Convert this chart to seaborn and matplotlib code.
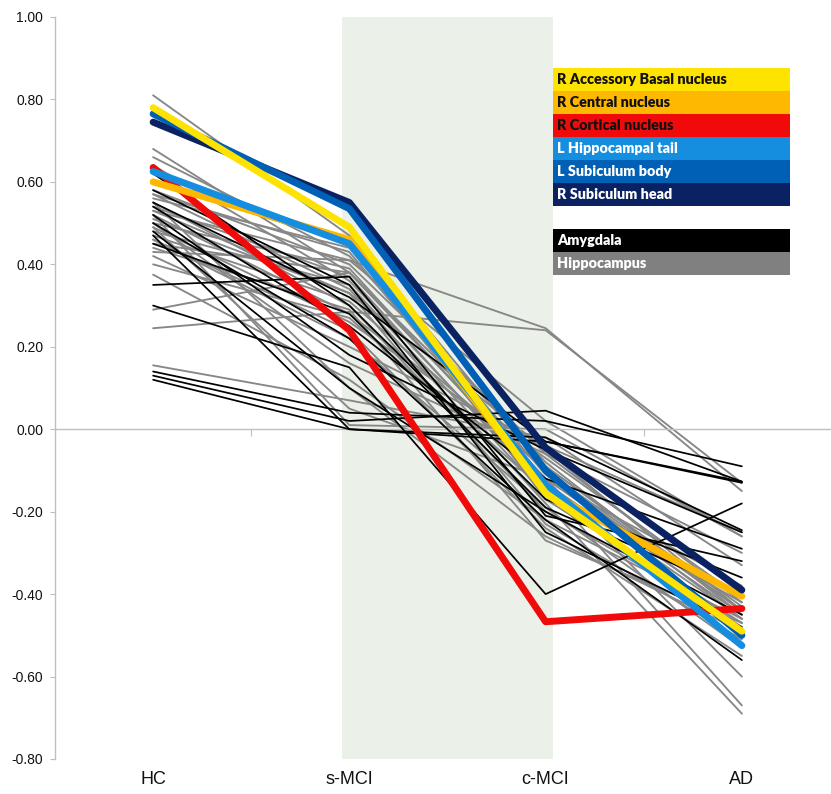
import numpy as np
import pandas as pd
import matplotlib
matplotlib.use("Agg")
import matplotlib.pyplot as plt
from matplotlib.patches import Rectangle
import seaborn as sns

# ---------------- data ----------------
stages = ["HC", "s-MCI", "c-MCI", "AD"]
y_ticks = [-0.8, -0.6, -0.4, -0.2, 0.0, 0.2, 0.4, 0.6, 0.8, 1.0]

# highlighted regions  [HC, s-MCI, c-MCI, AD]
hl_names = ["R Accessory Basal nucleus", "R Central nucleus", "R Cortical nucleus",
            "L Hippocampal tail", "L Subiculum body", "R Subiculum head"]
hl_acc_basal = [0.780, 0.490, -0.155, -0.490]
hl_central = [0.600, 0.460, -0.150, -0.405]
hl_cortical = [0.635, 0.240, -0.467, -0.435]
hl_hipp_tail = [0.625, 0.450, -0.135, -0.525]
hl_sub_body = [0.765, 0.535, -0.100, -0.500]
hl_sub_head = [0.745, 0.550, -0.045, -0.390]

group_names = ["Amygdala", "Hippocampus"]

# amygdala nuclei (black)
amygdala_values = [
    [0.140, 0.040, 0.020, -0.090],
    [0.130, 0.020, 0.045, -0.127],
    [0.120, 0.000, -0.030, -0.130],
    [0.300, 0.150, -0.400, -0.180],
    [0.350, 0.370, -0.210, -0.320],
    [0.620, 0.300, -0.170, -0.360],
    [0.470, 0.000, -0.020, -0.245],
    [0.500, 0.220, -0.220, -0.560],
    [0.550, 0.320, -0.030, -0.127],
    [0.520, 0.180, -0.050, -0.250],
    [0.450, 0.280, -0.190, -0.400],
    [0.580, 0.350, -0.250, -0.480],
    [0.480, 0.100, -0.200, -0.450],
    [0.540, 0.250, -0.120, -0.290],
]

# hippocampal subfields (grey)
hippocampus_values = [
    [0.810, 0.470, -0.100, -0.460],
    [0.680, 0.380, -0.120, -0.600],
    [0.660, 0.420, -0.080, -0.450],
    [0.640, 0.360, -0.140, -0.670],
    [0.580, 0.400, -0.060, -0.420],
    [0.570, 0.340, -0.180, -0.690],
    [0.560, 0.440, -0.110, -0.440],
    [0.550, 0.300, -0.200, -0.470],
    [0.540, 0.370, -0.150, -0.500],
    [0.530, 0.410, 0.020, -0.260],
    [0.520, 0.280, -0.090, -0.430],
    [0.510, 0.330, -0.230, -0.510],
    [0.500, 0.390, -0.130, -0.460],
    [0.490, 0.260, -0.070, -0.410],
    [0.480, 0.350, -0.160, -0.480],
    [0.470, 0.310, -0.100, -0.440],
    [0.460, 0.220, -0.190, -0.530],
    [0.450, 0.380, -0.120, -0.450],
    [0.440, 0.290, -0.270, -0.470],
    [0.430, 0.410, 0.245, -0.150],
    [0.245, 0.285, 0.240, -0.130],
    [0.420, 0.200, -0.040, -0.250],
    [0.400, 0.270, -0.150, -0.420],
    [0.375, 0.120, -0.220, -0.460],
    [0.290, 0.380, -0.090, -0.440],
    [0.520, 0.010, 0.000, -0.260],
    [0.550, 0.100, -0.260, -0.490],
    [0.600, 0.450, -0.170, -0.470],
    [0.500, 0.160, -0.060, -0.300],
    [0.460, 0.240, -0.240, -0.550],
    [0.530, 0.330, -0.050, -0.440],
    [0.570, 0.430, -0.140, -0.500],
    [0.490, 0.050, -0.120, -0.380],
    [0.155, 0.070, -0.020, -0.330],
]

# ---------------- tidy frames ----------------
def to_long(rows, prefix):
    recs = []
    for i, row in enumerate(rows):
        for j, v in enumerate(row):
            recs.append({"region": f"{prefix}{i}", "pos": j, "value": v})
    return pd.DataFrame(recs)

df_amy = to_long(amygdala_values, "amy")
df_hip = to_long(hippocampus_values, "hip")
hl_rows = [hl_acc_basal, hl_central, hl_cortical, hl_hipp_tail, hl_sub_body, hl_sub_head]
df_hl = pd.DataFrame([{"region": n, "pos": j, "value": v}
                      for n, row in zip(hl_names, hl_rows) for j, v in enumerate(row)])

# ---------------- style ----------------
hl_colors = {
    "R Accessory Basal nucleus": "#FFE300",
    "R Central nucleus": "#FFB800",
    "R Cortical nucleus": "#F00A0A",
    "L Hippocampal tail": "#168EE0",
    "L Subiculum body": "#0060B6",
    "R Subiculum head": "#0A2262",
}
hl_text = {
    "R Accessory Basal nucleus": "#111111",
    "R Central nucleus": "#111111",
    "R Cortical nucleus": "#111111",
    "L Hippocampal tail": "white",
    "L Subiculum body": "white",
    "R Subiculum head": "white",
}
group_colors = {"Amygdala": "#000000", "Hippocampus": "#808080"}
draw_order = ["R Cortical nucleus", "R Central nucleus", "L Hippocampal tail",
              "R Subiculum head", "L Subiculum body", "R Accessory Basal nucleus"]

sns.set_style("white")
plt.rcParams["font.family"] = ["Liberation Sans", "DejaVu Sans"]

W, H = 831, 794
fig = plt.figure(figsize=(W / 100, H / 100), dpi=100)
ax_left, ax_right = 55 / W, 840 / W
ax_top, ax_bot = 1 - 17 / H, 1 - 759 / H
ax = fig.add_axes([ax_left, ax_bot, ax_right - ax_left, ax_top - ax_bot])

ax.axvspan(0.96, 2.04, color="#EBF1E9", zorder=0, lw=0)

sns.lineplot(data=df_hip, x="pos", y="value", units="region", estimator=None,
             color="#878787", lw=1.35, ax=ax, legend=False, zorder=2)
sns.lineplot(data=df_amy, x="pos", y="value", units="region", estimator=None,
             color="#000000", lw=1.25, ax=ax, legend=False, zorder=3)
sns.lineplot(data=df_hl, x="pos", y="value", hue="region", hue_order=draw_order,
             palette=hl_colors, estimator=None, lw=5.0, ax=ax, legend=False, zorder=4)

ax.set_xlim(-0.5, 3.5)
ax.set_ylim(-0.8, 1.0)
ax.set_xlabel("")
ax.set_ylabel("")

for s in ["top", "right"]:
    ax.spines[s].set_visible(False)
ax.spines["left"].set_color("#BFBFBF")
ax.spines["left"].set_linewidth(1.0)
ax.spines["bottom"].set_position(("data", 0))
ax.spines["bottom"].set_color("#BFBFBF")
ax.spines["bottom"].set_linewidth(1.0)

ax.set_yticks(y_ticks)
ax.set_yticklabels([f"{v:.2f}" for v in y_ticks])
ax.tick_params(axis="y", length=3.5, width=0.8, color="#BFBFBF", pad=5,
               labelsize=10, labelcolor="#111111", left=True)

ax.set_xticks(range(len(stages)))
ax.set_xticklabels([])
ax.tick_params(axis="x", which="major", length=0)
ax.set_xticks([0.5, 1.5, 2.5, 3.5], minor=True)
ax.tick_params(axis="x", which="minor", length=5, width=0.8, color="#BFBFBF",
               direction="out", bottom=True)

sec = ax.secondary_xaxis(0.0)
sec.set_xticks(range(len(stages)))
sec.set_xticklabels(stages)
sec.spines["bottom"].set_visible(False)
sec.tick_params(axis="x", length=0, pad=9, labelsize=13, labelcolor="#111111")

# ---------------- legend boxes ----------------
bx0, bx1 = 553, 790
row_h = 23
entries = [(n, hl_colors[n], hl_text[n]) for n in hl_names] + [None] + \
          [(g, group_colors[g], "white") for g in group_names]
y0 = 68
for i, e in enumerate(entries):
    if e is None:
        continue
    name, fc, tc = e
    top = y0 + i * row_h
    fig.patches.append(Rectangle((bx0 / W, 1 - (top + row_h) / H), (bx1 - bx0) / W,
                                 row_h / H, transform=fig.transFigure,
                                 facecolor=fc, edgecolor="none", zorder=5))
    fig.text((bx0 + 4) / W, 1 - (top + row_h / 2) / H, name, color=tc,
             fontsize=10.4, fontweight="heavy", family=["Lato", "DejaVu Sans"],
             va="center", ha="left", zorder=6)

fig.savefig("out.png", dpi=100)
